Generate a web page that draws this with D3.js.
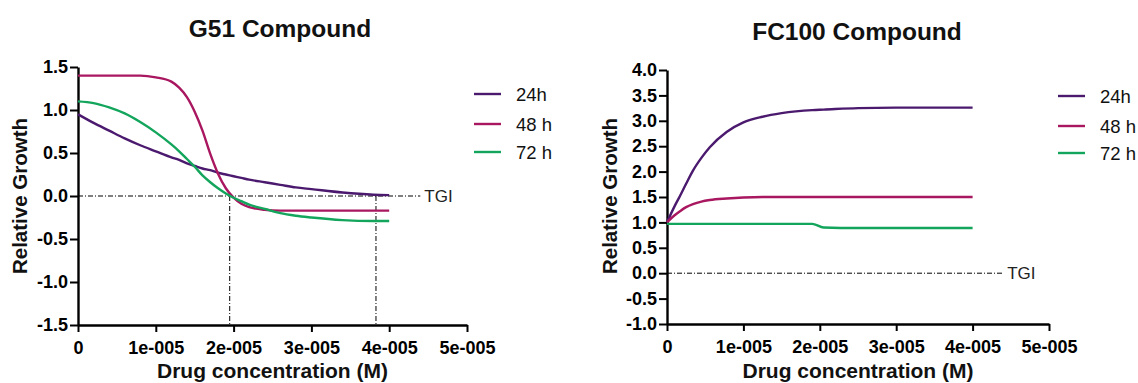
<!DOCTYPE html>
<html>
<head>
<meta charset="utf-8">
<script src="https://cdn.jsdelivr.net/npm/d3@7"></script>
<style>
  body { margin: 0; background: #fff; }
  text { font-family: "Liberation Sans", Arial, sans-serif; }
</style>
</head>
<body>
<svg id="chart" width="1138" height="383"></svg>
<script>
/* series labels and colours */
const seriesNames = ["24h", "48 h", "72 h"];
const seriesColors = ["#4b1a6e", "#a8175f", "#13a55c"];

/* G51 compound: concentration (M) and relative growth */
const g51Conc = [0, 0.2e-5, 0.4e-5, 0.6e-5, 0.8e-5, 1e-5, 1.2e-5, 1.3e-5, 1.4e-5, 1.5e-5, 1.6e-5, 1.7e-5, 1.8e-5, 1.9e-5, 2e-5, 2.1e-5, 2.2e-5, 2.4e-5, 2.6e-5, 2.8e-5, 3e-5, 3.4e-5, 3.8e-5, 4e-5];
const g51_24h = [0.95, 0.85, 0.76, 0.67, 0.59, 0.52, 0.45, 0.42, 0.38, 0.35, 0.32, 0.30, 0.27, 0.25, 0.23, 0.21, 0.19, 0.16, 0.13, 0.10, 0.08, 0.04, 0.015, 0.01];
const g51_48h = [1.40, 1.40, 1.40, 1.40, 1.40, 1.38, 1.33, 1.26, 1.15, 0.98, 0.76, 0.49, 0.26, 0.09, -0.02, -0.09, -0.13, -0.16, -0.17, -0.17, -0.17, -0.17, -0.17, -0.17];
const g51_72h = [1.10, 1.08, 1.03, 0.96, 0.86, 0.74, 0.60, 0.52, 0.43, 0.34, 0.24, 0.16, 0.09, 0.03, -0.02, -0.06, -0.10, -0.15, -0.20, -0.23, -0.25, -0.28, -0.29, -0.29];
const g51Drops = [1.95e-5, 3.83e-5];

/* FC100 compound */
const fcConc = [0, 0.1e-5, 0.17e-5, 0.25e-5, 0.34e-5, 0.45e-5, 0.56e-5, 0.78e-5, 1e-5, 1.25e-5, 1.5e-5, 1.9e-5, 2.05e-5, 2.5e-5, 3e-5, 4e-5];
const fc_24h = [1.0, 1.32, 1.52, 1.76, 2.02, 2.27, 2.48, 2.78, 2.97, 3.08, 3.15, 3.21, 3.22, 3.25, 3.26, 3.26];
const fc_48h = [1.0, 1.14, 1.22, 1.30, 1.36, 1.41, 1.44, 1.47, 1.49, 1.50, 1.50, 1.50, 1.50, 1.50, 1.50, 1.50];
const fc_72h = [0.97, 0.97, 0.97, 0.97, 0.97, 0.97, 0.97, 0.97, 0.97, 0.97, 0.97, 0.97, 0.90, 0.89, 0.89, 0.89];

const xTicks = [0, 1e-5, 2e-5, 3e-5, 4e-5, 5e-5];
const g51YTicks = [-1.5, -1.0, -0.5, 0.0, 0.5, 1.0, 1.5];
const fcYTicks = [-1.0, -0.5, 0.0, 0.5, 1.0, 1.5, 2.0, 2.5, 3.0, 3.5, 4.0];

const svg = d3.select("#chart");

/* format ticks like 1e-005, and plain hyphen minus on y */
const fmtX = d => d === 0 ? "0" : (d / 1e-5).toFixed(0) + "e-005";
const fmtY = d => d.toFixed(1);

function panel(cfg) {
  const g = svg.append("g");
  const x = d3.scaleLinear().domain([0, 5e-5]).range([cfg.left, cfg.right]);
  const y = d3.scaleLinear().domain(cfg.yDomain).range([cfg.bottom, cfg.top]);

  /* axes */
  const xa = g.append("g").attr("transform", `translate(0,${cfg.bottom})`)
    .call(d3.axisBottom(x).tickValues(xTicks).tickFormat(fmtX).tickSize(7).tickSizeOuter(0));
  const ya = g.append("g").attr("transform", `translate(${cfg.left},0)`)
    .call(d3.axisLeft(y).tickValues(cfg.yTicks).tickFormat(fmtY).tickSize(8).tickSizeOuter(0));
  [xa, ya].forEach(a => {
    a.select(".domain").attr("stroke", "#000").attr("stroke-width", 2.4);
    a.selectAll(".tick line").attr("stroke", "#000").attr("stroke-width", 2);
    a.selectAll("text").attr("font-size", 18).attr("font-weight", "bold").attr("fill", "#000")
      .attr("font-family", "Liberation Sans, Arial, sans-serif");
  });
  xa.selectAll("text").attr("y", 16).attr("dy", "0.71em");
  ya.selectAll("text").attr("x", -10);

  /* TGI line */
  g.append("line").attr("x1", cfg.left).attr("x2", x(cfg.tgiEnd))
    .attr("y1", y(0)).attr("y2", y(0))
    .attr("stroke", "#000").attr("stroke-width", 1).attr("stroke-dasharray", "5,2,1,2");
  g.append("text").attr("x", x(cfg.tgiEnd) + 4).attr("y", y(0) + 6)
    .attr("font-size", 17).attr("fill", "#222").text("TGI");

  (cfg.drops || []).forEach(c => {
    g.append("line").attr("x1", x(c)).attr("x2", x(c)).attr("y1", y(0)).attr("y2", cfg.bottom)
      .attr("stroke", "#000").attr("stroke-width", 1).attr("stroke-dasharray", "5,2,1,2");
  });

  /* curves */
  const line = d3.line().x((d, i) => x(cfg.conc[i])).y(d => y(d)).curve(d3.curveMonotoneX);
  cfg.series.forEach((s, i) => {
    g.append("path").datum(s).attr("d", line).attr("fill", "none")
      .attr("stroke", seriesColors[i]).attr("stroke-width", 2.4);
  });

  /* legend */
  seriesNames.forEach((n, i) => {
    const ly = cfg.legendY[i];
    g.append("line").attr("x1", cfg.legendX).attr("x2", cfg.legendX + 27).attr("y1", ly).attr("y2", ly)
      .attr("stroke", seriesColors[i]).attr("stroke-width", 2.4);
    g.append("text").attr("x", cfg.legendX + 42).attr("y", ly + 7).attr("font-size", 18.5)
      .attr("fill", "#111").text(n);
  });

  /* titles */
  g.append("text").attr("x", cfg.titleX).attr("y", cfg.titleY).attr("text-anchor", "middle")
    .attr("font-size", 24.5).attr("font-weight", "bold").attr("fill", "#111").text(cfg.title);
  g.append("text").attr("x", (cfg.left + cfg.right) / 2).attr("y", 378).attr("text-anchor", "middle")
    .attr("font-size", 21).attr("font-weight", "bold").attr("fill", "#111").text("Drug concentration (M)");
  g.append("text").attr("transform", `translate(${cfg.yLabelX},196) rotate(-90)`)
    .attr("text-anchor", "middle").attr("font-size", 20.5).attr("font-weight", "bold").attr("fill", "#111")
    .text("Relative Growth");
}

panel({
  left: 78, right: 467, top: 67, bottom: 325, yDomain: [-1.5, 1.5], yTicks: g51YTicks,
  conc: g51Conc, series: [g51_24h, g51_48h, g51_72h], drops: g51Drops, tgiEnd: 4.4e-5,
  legendX: 474, legendY: [94, 124, 152], title: "G51 Compound", titleX: 280, titleY: 37, yLabelX: 27
});

panel({
  left: 667, right: 1049, top: 70, bottom: 324, yDomain: [-1.0, 4.0], yTicks: fcYTicks,
  conc: fcConc, series: [fc_24h, fc_48h, fc_72h], tgiEnd: 4.4e-5,
  legendX: 1058, legendY: [96, 126, 153], title: "FC100 Compound", titleX: 857, titleY: 40, yLabelX: 617
});
</script>
</body>
</html>
